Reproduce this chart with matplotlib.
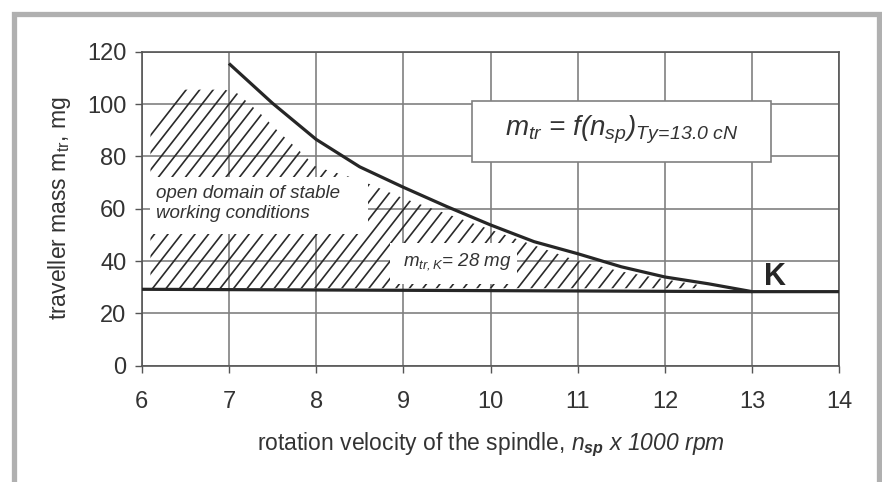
import matplotlib
matplotlib.use("Agg")
import matplotlib.pyplot as plt
import numpy as np
from matplotlib.patches import Polygon, Rectangle
from matplotlib.collections import LineCollection

plt.rcParams['font.family'] = ['Liberation Sans', 'DejaVu Sans']
plt.rcParams['mathtext.fontset'] = 'custom'
plt.rcParams['mathtext.rm'] = 'Liberation Sans:italic'
plt.rcParams['mathtext.it'] = 'Liberation Sans:italic'
plt.rcParams['mathtext.sf'] = 'Liberation Sans'
plt.rcParams['mathtext.bf'] = 'Liberation Sans:italic:bold'

# curve m_tr = f(n_sp)
n_sp = [7.0, 7.5, 8.0, 8.5, 9.0, 9.5, 10.0, 10.5, 11.0, 11.5, 12.0, 12.5, 13.0]
m_tr = [115.5, 100.3, 86.5, 76.0, 68.2, 60.8, 53.8, 47.4, 42.8, 37.8, 33.9, 31.3, 28.3]

# critical mass line
base_x = [6.0, 13.0, 14.0]
base_y = [29.2, 28.3, 28.3]

# outline of the hatched "stable" domain
hatch_x = [6.1, 6.1, 6.46, 6.95, 7.1, 7.36, 7.57, 7.78, 8.0, 8.5, 9.0, 9.5, 10.0,
           10.5, 11.0, 11.5, 12.0, 12.45, 12.45]
hatch_y = [29.6, 92, 105.5, 105.5, 104, 96.4, 89.4, 83, 76, 71, 64, 58, 52,
           46, 40, 36, 33, 30.5, 29.6]

x_ticks = [6, 7, 8, 9, 10, 11, 12, 13, 14]
y_ticks = [0, 20, 40, 60, 80, 100, 120]

TXT = '#333333'

fig = plt.figure(figsize=(8.82, 4.82), dpi=100)
ax = fig.add_axes([0.1607, 0.2413, 0.7909, 0.6514])
ax.set_xlim(6, 14)
ax.set_ylim(0, 120)
ax.set_xticks(x_ticks)
ax.set_yticks(y_ticks)
ax.grid(True, color='#808080', lw=1.2, zorder=0.5)
ax.set_axisbelow(True)
for sp in ax.spines.values():
    sp.set_color('#555555')
    sp.set_linewidth(1.2)
ax.tick_params(direction='out', length=5, width=1.0, color='#555555',
               labelsize=17, labelcolor=TXT, pad=6)
ax.tick_params(axis='x', pad=13)

# hatched region: own diagonal lines clipped to the outline
poly = Polygon(np.column_stack([hatch_x, hatch_y]), closed=True,
               facecolor='none', edgecolor='none')
ax.add_patch(poly)
slope = np.tan(np.radians(52)) * (87.2 / 2.617)
segs = [[(c, 0), (c + 130 / slope, 130)] for c in np.arange(6 - 130 / slope, 14, 0.155)]
lc = LineCollection(segs, colors='#2a2a2a', linewidths=1.2, zorder=1)
lc.set_clip_path(poly)
ax.add_collection(lc)

# white cut-outs for the labels inside the hatch
ax.add_patch(Rectangle((6.1, 50.5), 2.5, 21.8, facecolor='white', edgecolor='none', zorder=2))
ax.add_patch(Rectangle((8.85, 31.3), 1.45, 15.7, facecolor='white', edgecolor='none', zorder=2))

ax.plot(n_sp, m_tr, color='#262626', lw=2.3, zorder=3, solid_capstyle='butt')
ax.plot(base_x, base_y, color='#262626', lw=2.3, zorder=3)

ax.text(6.16, 66, 'open domain of stable', style='italic', fontsize=13.5, color=TXT,
        va='center', ha='left', zorder=4)
ax.text(6.16, 58.3, 'working conditions', style='italic', fontsize=13.5, color=TXT,
        va='center', ha='left', zorder=4)
ax.text(9.62, 39.7, r'$m_{tr,K}$= 28 mg', style='italic', fontsize=13.5, color=TXT,
        va='center', ha='center', zorder=4)
ax.text(13.26, 33.9, 'K', fontweight='bold', fontsize=22, color='#262626',
        va='center', ha='center', zorder=4)

ax.add_patch(Rectangle((9.79, 78), 3.43, 23, facecolor='white', edgecolor='#808080',
                       lw=1.2, zorder=3))
ax.text(11.5, 90, r'$m_{tr}$ = $f(n_{sp})_{Ty\!=\!13.0\ cN}$', style='italic',
        fontsize=20, color=TXT, va='center', ha='center', zorder=4)

ax.set_xlabel(r'rotation velocity of the spindle, $n_{\mathbf{sp}}\ x\ 1000\ rpm$',
              fontsize=16.5, color=TXT, labelpad=13)
ax.set_ylabel(r'traveller mass m$_{\mathsf{tr}}$, mg', fontsize=16.5, color=TXT, labelpad=10)

# grey frame around the figure (open at the bottom)
fig.add_artist(Rectangle((14.5 / 882, -0.1), 864.5 / 882, 1.1 - 13.5 / 482,
                         transform=fig.transFigure, facecolor='none',
                         edgecolor='#b0b0b0', lw=3.8))

fig.savefig('out.png', dpi=100)
